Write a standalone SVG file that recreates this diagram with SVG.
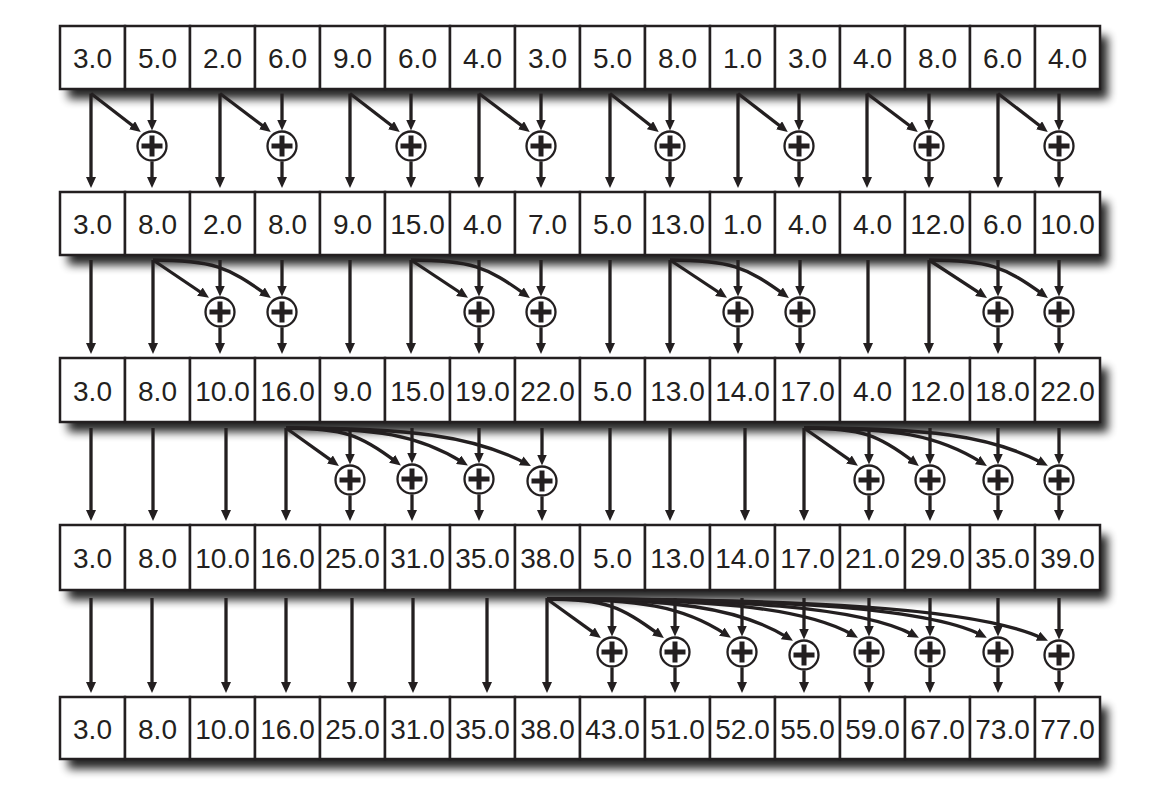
<svg xmlns="http://www.w3.org/2000/svg" width="1153" height="789" viewBox="0 0 1153 789">
<style>
.cell{fill:#fff;stroke:#231f20;stroke-width:2.5}
.t{font-family:"Liberation Sans",Arial,sans-serif;font-size:28px;text-anchor:middle;fill:#231f20}
.c{fill:none;stroke:#231f20;stroke-width:3.3;marker-end:url(#ah)}
.op circle{fill:#fff;stroke:#231f20;stroke-width:2.3}
.sh{fill:#000;opacity:0.85;filter:url(#blur)}
</style>
<defs>
<filter id="blur" x="-5%" y="-40%" width="110%" height="180%"><feGaussianBlur stdDeviation="5"/></filter>
<marker id="ah" viewBox="0 0 11 10" markerWidth="11" markerHeight="10" refX="5" refY="5" markerUnits="userSpaceOnUse" orient="auto"><path d="M0,0 L11,5 L0,10 z" fill="#231f20"/></marker>
<path id="plus" d="M-10.5,0H10.5M0,-10.5V10.5" fill="none" stroke="#231f20" stroke-width="5"/>
</defs>
<rect width="1153" height="789" fill="#fff"/>
<g id="shadows">
<rect class="sh" x="68" y="36" width="1040" height="63"/>
<rect class="sh" x="68" y="202" width="1040" height="63"/>
<rect class="sh" x="68" y="368" width="1040" height="64"/>
<rect class="sh" x="68" y="535" width="1040" height="65"/>
<rect class="sh" x="68" y="707" width="1040" height="62"/>
</g>
<g id="connectors">
<!-- gap 1 -->
<path class="c" d="M91,93.5V182"/><path class="c" d="M220,93.5V182"/><path class="c" d="M350,93.5V182"/><path class="c" d="M479,93.5V182"/><path class="c" d="M610,93.5V182"/><path class="c" d="M738,93.5V182"/><path class="c" d="M867,93.5V182"/><path class="c" d="M998,93.5V182"/>
<path class="c" d="M152,93.5V124.5"/><path class="c" d="M282,93.5V124.5"/><path class="c" d="M411,93.5V124.5"/><path class="c" d="M541,93.5V124.5"/><path class="c" d="M670,93.5V124.5"/><path class="c" d="M799,93.5V124.5"/><path class="c" d="M929,93.5V124.5"/><path class="c" d="M1059,93.5V124.5"/>
<path class="c" d="M152,161.5V182"/><path class="c" d="M282,161.5V182"/><path class="c" d="M411,161.5V182"/><path class="c" d="M541,161.5V182"/><path class="c" d="M670,161.5V182"/><path class="c" d="M799,161.5V182"/><path class="c" d="M929,161.5V182"/><path class="c" d="M1059,161.5V182"/>
<path class="c" d="M91,93.5L136,128.3"/><path class="c" d="M220,93.5L266,128.3"/><path class="c" d="M350,93.5L395,128.3"/><path class="c" d="M479,93.5L525,128.3"/><path class="c" d="M610,93.5L654,128.3"/><path class="c" d="M738,93.5L783,128.3"/><path class="c" d="M867,93.5L913,128.3"/><path class="c" d="M998,93.5L1043,128.3"/>
<!-- gap 2 -->
<path class="c" d="M91,260V348"/><path class="c" d="M153,260V348"/><path class="c" d="M350,260V348"/><path class="c" d="M411,260V348"/><path class="c" d="M610,260V348"/><path class="c" d="M670,260V348"/><path class="c" d="M868,260V348"/><path class="c" d="M929,260V348"/>
<path class="c" d="M220,260V290.5"/><path class="c" d="M282,260V290.5"/><path class="c" d="M479,260V290.5"/><path class="c" d="M541,260V290.5"/><path class="c" d="M738,260V290.5"/><path class="c" d="M800,260V290.5"/><path class="c" d="M998,260V290.5"/><path class="c" d="M1059,260V290.5"/>
<path class="c" d="M220,327.5V348"/><path class="c" d="M282,327.5V348"/><path class="c" d="M479,327.5V348"/><path class="c" d="M541,327.5V348"/><path class="c" d="M738,327.5V348"/><path class="c" d="M800,327.5V348"/><path class="c" d="M998,327.5V348"/><path class="c" d="M1059,327.5V348"/>
<path class="c" d="M153,260L204,294.5"/><path class="c" d="M153,260C212,260 228.2,267 266,294.4"/>
<path class="c" d="M411,260L463,294.5"/><path class="c" d="M411,260C470.5,260 487.2,267 525,294.4"/>
<path class="c" d="M670,260L722,294.5"/><path class="c" d="M670,260C729.5,260 746.2,267 784,294.4"/>
<path class="c" d="M929,260L982,294.6"/><path class="c" d="M929,260C988.5,260 1005.2,267 1043,294.4"/>
<!-- gap 3 -->
<path class="c" d="M91,428V515"/><path class="c" d="M153,428V515"/><path class="c" d="M226,428V515"/><path class="c" d="M286,428V515"/><path class="c" d="M610,428V515"/><path class="c" d="M670,428V515"/><path class="c" d="M745,428V515"/><path class="c" d="M804,428V515"/>
<path class="c" d="M350,428V458.5"/><path class="c" d="M412,428V457.5"/><path class="c" d="M479,428V457.5"/><path class="c" d="M542,428V459.5"/><path class="c" d="M869,428V458.5"/><path class="c" d="M930,428V458.5"/><path class="c" d="M998,428V458.5"/><path class="c" d="M1059,428V458.5"/>
<path class="c" d="M350,495.5V515"/><path class="c" d="M412,494.5V515"/><path class="c" d="M479,494.5V515"/><path class="c" d="M542,496.5V515"/><path class="c" d="M869,495.5V515"/><path class="c" d="M930,495.5V515"/><path class="c" d="M998,495.5V515"/><path class="c" d="M1059,495.5V515"/>
<path class="c" d="M286,428L334,462.4"/>
<path class="c" d="M286,428C343.5,428 361.1,435 396.1,461.9"/>
<path class="c" d="M286,428C377,428 418.4,435 462.8,462.4"/>
<path class="c" d="M286,428C408.5,428 472.9,435.6 525.6,463.2"/>
<path class="c" d="M804,428L853,462.4"/>
<path class="c" d="M804,428C861.5,428 879.1,435 914.1,462.2"/>
<path class="c" d="M804,428C895.5,428 937.4,435 981.8,462.7"/>
<path class="c" d="M804,428C926,428 989.9,435 1042.6,463"/>
<!-- gap 4 -->
<path class="c" d="M91,598V687"/><path class="c" d="M152,598V687"/><path class="c" d="M226,598V687"/><path class="c" d="M286,598V687"/><path class="c" d="M352,598V687"/><path class="c" d="M413,598V687"/><path class="c" d="M487,598V687"/><path class="c" d="M547,598V687"/>
<path class="c" d="M612,598V630.5"/><path class="c" d="M675,598V630.5"/><path class="c" d="M742,598V630.5"/><path class="c" d="M804,598V633.5"/><path class="c" d="M869,598V630.5"/><path class="c" d="M930,598V630.5"/><path class="c" d="M998,598V630.5"/><path class="c" d="M1059,598V633.5"/>
<path class="c" d="M612,667.5V687"/><path class="c" d="M675,667.5V687"/><path class="c" d="M742,667.5V687"/><path class="c" d="M804,670.5V687"/><path class="c" d="M869,667.5V687"/><path class="c" d="M930,667.5V687"/><path class="c" d="M998,667.5V687"/><path class="c" d="M1059,670.5V687"/>
<path class="c" d="M547,599L596,634.4"/>
<path class="c" d="M547,599C605.5,599 620.1,606.2 659,634.4"/>
<path class="c" d="M547,599C639,599 683.7,606.2 725.9,634.5"/>
<path class="c" d="M547,599C670,599 738.2,606.8 787.8,637.6"/>
<path class="c" d="M547,599C702.5,599 802.9,606.2 852.7,634.8"/>
<path class="c" d="M547,599C733,599 859.4,606.2 913.6,635"/>
<path class="c" d="M547,599C767,599 924.8,606.2 981.5,635.1"/>
<path class="c" d="M547,599C797.5,599 974.9,606.8 1042.5,638.3"/>
</g>
<g id="adders">
<g id="add1-1" class="op" transform="translate(152,146)"><circle r="14.5"/><use href="#plus"/></g>
<g id="add1-3" class="op" transform="translate(282,146)"><circle r="14.5"/><use href="#plus"/></g>
<g id="add1-5" class="op" transform="translate(411,146)"><circle r="14.5"/><use href="#plus"/></g>
<g id="add1-7" class="op" transform="translate(541,146)"><circle r="14.5"/><use href="#plus"/></g>
<g id="add1-9" class="op" transform="translate(670,146)"><circle r="14.5"/><use href="#plus"/></g>
<g id="add1-11" class="op" transform="translate(799,146)"><circle r="14.5"/><use href="#plus"/></g>
<g id="add1-13" class="op" transform="translate(929,146)"><circle r="14.5"/><use href="#plus"/></g>
<g id="add1-15" class="op" transform="translate(1059,146)"><circle r="14.5"/><use href="#plus"/></g>
<g id="add2-2" class="op" transform="translate(220,312)"><circle r="14.5"/><use href="#plus"/></g>
<g id="add2-3" class="op" transform="translate(282,312)"><circle r="14.5"/><use href="#plus"/></g>
<g id="add2-6" class="op" transform="translate(479,312)"><circle r="14.5"/><use href="#plus"/></g>
<g id="add2-7" class="op" transform="translate(541,312)"><circle r="14.5"/><use href="#plus"/></g>
<g id="add2-10" class="op" transform="translate(738,312)"><circle r="14.5"/><use href="#plus"/></g>
<g id="add2-11" class="op" transform="translate(800,312)"><circle r="14.5"/><use href="#plus"/></g>
<g id="add2-14" class="op" transform="translate(998,312)"><circle r="14.5"/><use href="#plus"/></g>
<g id="add2-15" class="op" transform="translate(1059,312)"><circle r="14.5"/><use href="#plus"/></g>
<g id="add3-4" class="op" transform="translate(350,480)"><circle r="14.5"/><use href="#plus"/></g>
<g id="add3-5" class="op" transform="translate(412,479)"><circle r="14.5"/><use href="#plus"/></g>
<g id="add3-6" class="op" transform="translate(479,479)"><circle r="14.5"/><use href="#plus"/></g>
<g id="add3-7" class="op" transform="translate(542,481)"><circle r="14.5"/><use href="#plus"/></g>
<g id="add3-12" class="op" transform="translate(869,480)"><circle r="14.5"/><use href="#plus"/></g>
<g id="add3-13" class="op" transform="translate(930,480)"><circle r="14.5"/><use href="#plus"/></g>
<g id="add3-14" class="op" transform="translate(998,480)"><circle r="14.5"/><use href="#plus"/></g>
<g id="add3-15" class="op" transform="translate(1059,480)"><circle r="14.5"/><use href="#plus"/></g>
<g id="add4-8" class="op" transform="translate(612,652)"><circle r="14.5"/><use href="#plus"/></g>
<g id="add4-9" class="op" transform="translate(675,652)"><circle r="14.5"/><use href="#plus"/></g>
<g id="add4-10" class="op" transform="translate(742,652)"><circle r="14.5"/><use href="#plus"/></g>
<g id="add4-11" class="op" transform="translate(804,655)"><circle r="14.5"/><use href="#plus"/></g>
<g id="add4-12" class="op" transform="translate(869,652)"><circle r="14.5"/><use href="#plus"/></g>
<g id="add4-13" class="op" transform="translate(930,652)"><circle r="14.5"/><use href="#plus"/></g>
<g id="add4-14" class="op" transform="translate(998,652)"><circle r="14.5"/><use href="#plus"/></g>
<g id="add4-15" class="op" transform="translate(1059,655)"><circle r="14.5"/><use href="#plus"/></g>
</g>
<g id="row1">
<g id="r1c0"><rect class="cell" x="60" y="26" width="65" height="63"/><text class="t" x="92.5" y="67.5">3.0</text></g>
<g id="r1c1"><rect class="cell" x="125" y="26" width="65" height="63"/><text class="t" x="157.5" y="67.5">5.0</text></g>
<g id="r1c2"><rect class="cell" x="190" y="26" width="65" height="63"/><text class="t" x="222.5" y="67.5">2.0</text></g>
<g id="r1c3"><rect class="cell" x="255" y="26" width="65" height="63"/><text class="t" x="287.5" y="67.5">6.0</text></g>
<g id="r1c4"><rect class="cell" x="320" y="26" width="65" height="63"/><text class="t" x="352.5" y="67.5">9.0</text></g>
<g id="r1c5"><rect class="cell" x="385" y="26" width="65" height="63"/><text class="t" x="417.5" y="67.5">6.0</text></g>
<g id="r1c6"><rect class="cell" x="450" y="26" width="65" height="63"/><text class="t" x="482.5" y="67.5">4.0</text></g>
<g id="r1c7"><rect class="cell" x="515" y="26" width="65" height="63"/><text class="t" x="547.5" y="67.5">3.0</text></g>
<g id="r1c8"><rect class="cell" x="580" y="26" width="65" height="63"/><text class="t" x="612.5" y="67.5">5.0</text></g>
<g id="r1c9"><rect class="cell" x="645" y="26" width="65" height="63"/><text class="t" x="677.5" y="67.5">8.0</text></g>
<g id="r1c10"><rect class="cell" x="710" y="26" width="65" height="63"/><text class="t" x="742.5" y="67.5">1.0</text></g>
<g id="r1c11"><rect class="cell" x="775" y="26" width="65" height="63"/><text class="t" x="807.5" y="67.5">3.0</text></g>
<g id="r1c12"><rect class="cell" x="840" y="26" width="65" height="63"/><text class="t" x="872.5" y="67.5">4.0</text></g>
<g id="r1c13"><rect class="cell" x="905" y="26" width="65" height="63"/><text class="t" x="937.5" y="67.5">8.0</text></g>
<g id="r1c14"><rect class="cell" x="970" y="26" width="65" height="63"/><text class="t" x="1002.5" y="67.5">6.0</text></g>
<g id="r1c15"><rect class="cell" x="1035" y="26" width="65" height="63"/><text class="t" x="1067.5" y="67.5">4.0</text></g>
</g>
<g id="row2">
<g id="r2c0"><rect class="cell" x="60" y="192" width="65" height="63"/><text class="t" x="92.5" y="233.5">3.0</text></g>
<g id="r2c1"><rect class="cell" x="125" y="192" width="65" height="63"/><text class="t" x="157.5" y="233.5">8.0</text></g>
<g id="r2c2"><rect class="cell" x="190" y="192" width="65" height="63"/><text class="t" x="222.5" y="233.5">2.0</text></g>
<g id="r2c3"><rect class="cell" x="255" y="192" width="65" height="63"/><text class="t" x="287.5" y="233.5">8.0</text></g>
<g id="r2c4"><rect class="cell" x="320" y="192" width="65" height="63"/><text class="t" x="352.5" y="233.5">9.0</text></g>
<g id="r2c5"><rect class="cell" x="385" y="192" width="65" height="63"/><text class="t" x="417.5" y="233.5">15.0</text></g>
<g id="r2c6"><rect class="cell" x="450" y="192" width="65" height="63"/><text class="t" x="482.5" y="233.5">4.0</text></g>
<g id="r2c7"><rect class="cell" x="515" y="192" width="65" height="63"/><text class="t" x="547.5" y="233.5">7.0</text></g>
<g id="r2c8"><rect class="cell" x="580" y="192" width="65" height="63"/><text class="t" x="612.5" y="233.5">5.0</text></g>
<g id="r2c9"><rect class="cell" x="645" y="192" width="65" height="63"/><text class="t" x="677.5" y="233.5">13.0</text></g>
<g id="r2c10"><rect class="cell" x="710" y="192" width="65" height="63"/><text class="t" x="742.5" y="233.5">1.0</text></g>
<g id="r2c11"><rect class="cell" x="775" y="192" width="65" height="63"/><text class="t" x="807.5" y="233.5">4.0</text></g>
<g id="r2c12"><rect class="cell" x="840" y="192" width="65" height="63"/><text class="t" x="872.5" y="233.5">4.0</text></g>
<g id="r2c13"><rect class="cell" x="905" y="192" width="65" height="63"/><text class="t" x="937.5" y="233.5">12.0</text></g>
<g id="r2c14"><rect class="cell" x="970" y="192" width="65" height="63"/><text class="t" x="1002.5" y="233.5">6.0</text></g>
<g id="r2c15"><rect class="cell" x="1035" y="192" width="65" height="63"/><text class="t" x="1067.5" y="233.5">10.0</text></g>
</g>
<g id="row3">
<g id="r3c0"><rect class="cell" x="60" y="358" width="65" height="64"/><text class="t" x="92.5" y="400.5">3.0</text></g>
<g id="r3c1"><rect class="cell" x="125" y="358" width="65" height="64"/><text class="t" x="157.5" y="400.5">8.0</text></g>
<g id="r3c2"><rect class="cell" x="190" y="358" width="65" height="64"/><text class="t" x="222.5" y="400.5">10.0</text></g>
<g id="r3c3"><rect class="cell" x="255" y="358" width="65" height="64"/><text class="t" x="287.5" y="400.5">16.0</text></g>
<g id="r3c4"><rect class="cell" x="320" y="358" width="65" height="64"/><text class="t" x="352.5" y="400.5">9.0</text></g>
<g id="r3c5"><rect class="cell" x="385" y="358" width="65" height="64"/><text class="t" x="417.5" y="400.5">15.0</text></g>
<g id="r3c6"><rect class="cell" x="450" y="358" width="65" height="64"/><text class="t" x="482.5" y="400.5">19.0</text></g>
<g id="r3c7"><rect class="cell" x="515" y="358" width="65" height="64"/><text class="t" x="547.5" y="400.5">22.0</text></g>
<g id="r3c8"><rect class="cell" x="580" y="358" width="65" height="64"/><text class="t" x="612.5" y="400.5">5.0</text></g>
<g id="r3c9"><rect class="cell" x="645" y="358" width="65" height="64"/><text class="t" x="677.5" y="400.5">13.0</text></g>
<g id="r3c10"><rect class="cell" x="710" y="358" width="65" height="64"/><text class="t" x="742.5" y="400.5">14.0</text></g>
<g id="r3c11"><rect class="cell" x="775" y="358" width="65" height="64"/><text class="t" x="807.5" y="400.5">17.0</text></g>
<g id="r3c12"><rect class="cell" x="840" y="358" width="65" height="64"/><text class="t" x="872.5" y="400.5">4.0</text></g>
<g id="r3c13"><rect class="cell" x="905" y="358" width="65" height="64"/><text class="t" x="937.5" y="400.5">12.0</text></g>
<g id="r3c14"><rect class="cell" x="970" y="358" width="65" height="64"/><text class="t" x="1002.5" y="400.5">18.0</text></g>
<g id="r3c15"><rect class="cell" x="1035" y="358" width="65" height="64"/><text class="t" x="1067.5" y="400.5">22.0</text></g>
</g>
<g id="row4">
<g id="r4c0"><rect class="cell" x="60" y="525" width="65" height="65"/><text class="t" x="92.5" y="567.5">3.0</text></g>
<g id="r4c1"><rect class="cell" x="125" y="525" width="65" height="65"/><text class="t" x="157.5" y="567.5">8.0</text></g>
<g id="r4c2"><rect class="cell" x="190" y="525" width="65" height="65"/><text class="t" x="222.5" y="567.5">10.0</text></g>
<g id="r4c3"><rect class="cell" x="255" y="525" width="65" height="65"/><text class="t" x="287.5" y="567.5">16.0</text></g>
<g id="r4c4"><rect class="cell" x="320" y="525" width="65" height="65"/><text class="t" x="352.5" y="567.5">25.0</text></g>
<g id="r4c5"><rect class="cell" x="385" y="525" width="65" height="65"/><text class="t" x="417.5" y="567.5">31.0</text></g>
<g id="r4c6"><rect class="cell" x="450" y="525" width="65" height="65"/><text class="t" x="482.5" y="567.5">35.0</text></g>
<g id="r4c7"><rect class="cell" x="515" y="525" width="65" height="65"/><text class="t" x="547.5" y="567.5">38.0</text></g>
<g id="r4c8"><rect class="cell" x="580" y="525" width="65" height="65"/><text class="t" x="612.5" y="567.5">5.0</text></g>
<g id="r4c9"><rect class="cell" x="645" y="525" width="65" height="65"/><text class="t" x="677.5" y="567.5">13.0</text></g>
<g id="r4c10"><rect class="cell" x="710" y="525" width="65" height="65"/><text class="t" x="742.5" y="567.5">14.0</text></g>
<g id="r4c11"><rect class="cell" x="775" y="525" width="65" height="65"/><text class="t" x="807.5" y="567.5">17.0</text></g>
<g id="r4c12"><rect class="cell" x="840" y="525" width="65" height="65"/><text class="t" x="872.5" y="567.5">21.0</text></g>
<g id="r4c13"><rect class="cell" x="905" y="525" width="65" height="65"/><text class="t" x="937.5" y="567.5">29.0</text></g>
<g id="r4c14"><rect class="cell" x="970" y="525" width="65" height="65"/><text class="t" x="1002.5" y="567.5">35.0</text></g>
<g id="r4c15"><rect class="cell" x="1035" y="525" width="65" height="65"/><text class="t" x="1067.5" y="567.5">39.0</text></g>
</g>
<g id="row5">
<g id="r5c0"><rect class="cell" x="60" y="697" width="65" height="62"/><text class="t" x="92.5" y="738.5">3.0</text></g>
<g id="r5c1"><rect class="cell" x="125" y="697" width="65" height="62"/><text class="t" x="157.5" y="738.5">8.0</text></g>
<g id="r5c2"><rect class="cell" x="190" y="697" width="65" height="62"/><text class="t" x="222.5" y="738.5">10.0</text></g>
<g id="r5c3"><rect class="cell" x="255" y="697" width="65" height="62"/><text class="t" x="287.5" y="738.5">16.0</text></g>
<g id="r5c4"><rect class="cell" x="320" y="697" width="65" height="62"/><text class="t" x="352.5" y="738.5">25.0</text></g>
<g id="r5c5"><rect class="cell" x="385" y="697" width="65" height="62"/><text class="t" x="417.5" y="738.5">31.0</text></g>
<g id="r5c6"><rect class="cell" x="450" y="697" width="65" height="62"/><text class="t" x="482.5" y="738.5">35.0</text></g>
<g id="r5c7"><rect class="cell" x="515" y="697" width="65" height="62"/><text class="t" x="547.5" y="738.5">38.0</text></g>
<g id="r5c8"><rect class="cell" x="580" y="697" width="65" height="62"/><text class="t" x="612.5" y="738.5">43.0</text></g>
<g id="r5c9"><rect class="cell" x="645" y="697" width="65" height="62"/><text class="t" x="677.5" y="738.5">51.0</text></g>
<g id="r5c10"><rect class="cell" x="710" y="697" width="65" height="62"/><text class="t" x="742.5" y="738.5">52.0</text></g>
<g id="r5c11"><rect class="cell" x="775" y="697" width="65" height="62"/><text class="t" x="807.5" y="738.5">55.0</text></g>
<g id="r5c12"><rect class="cell" x="840" y="697" width="65" height="62"/><text class="t" x="872.5" y="738.5">59.0</text></g>
<g id="r5c13"><rect class="cell" x="905" y="697" width="65" height="62"/><text class="t" x="937.5" y="738.5">67.0</text></g>
<g id="r5c14"><rect class="cell" x="970" y="697" width="65" height="62"/><text class="t" x="1002.5" y="738.5">73.0</text></g>
<g id="r5c15"><rect class="cell" x="1035" y="697" width="65" height="62"/><text class="t" x="1067.5" y="738.5">77.0</text></g>
</g>
</svg>
